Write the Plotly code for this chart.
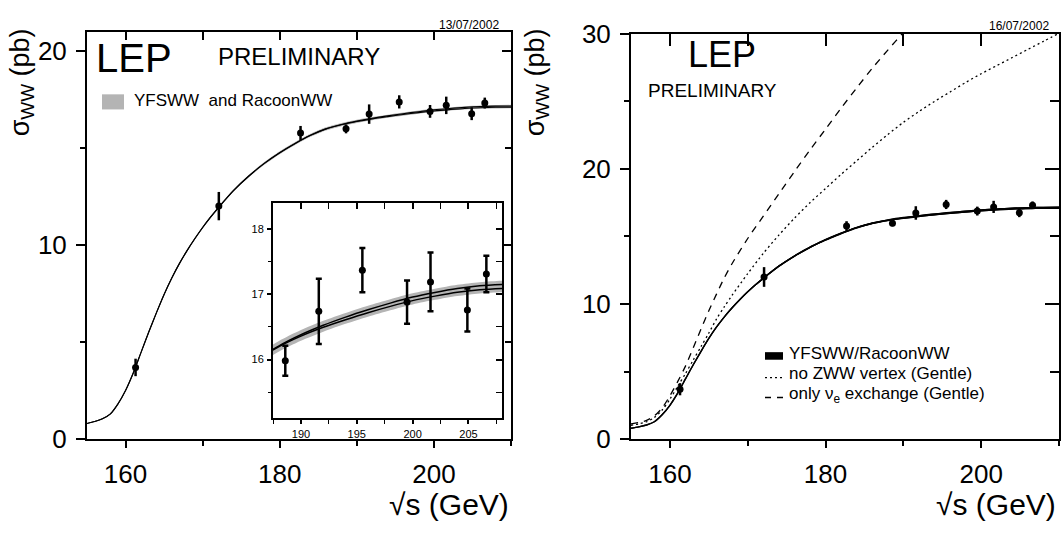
import plotly.graph_objects as go

# ---------------- data ----------------
energies = [161.3, 172.1, 182.7, 188.6, 191.6, 195.5, 199.5, 201.6, 204.9, 206.6]
sigma_ww = [3.69, 12.0, 15.77, 15.98, 16.74, 17.37, 16.88, 17.19, 16.76, 17.31]
sigma_err = [0.45, 0.73, 0.36, 0.23, 0.50, 0.34, 0.33, 0.45, 0.33, 0.28]

th_energy = [155, 156, 157, 158, 159, 160, 161, 162, 163, 164, 165, 166, 167, 168, 169, 170,
             171, 172, 174, 176, 178, 180, 182, 184, 186, 188, 190, 192, 194, 196, 198, 200,
             202, 204, 206, 208, 210]
th_center = [0.80, 0.90, 1.04, 1.28, 1.80, 2.50, 3.40, 4.45, 5.50, 6.50, 7.45, 8.30, 9.05, 9.72, 10.33, 10.90,
             11.42, 11.90, 12.80, 13.55, 14.20, 14.75, 15.23, 15.65, 15.98, 16.20, 16.37, 16.51, 16.63, 16.74, 16.84, 16.93,
             17.00, 17.06, 17.10, 17.12, 17.13]
yfsww = [0.80, 0.90, 1.04, 1.28, 1.80, 2.50, 3.40, 4.45, 5.50, 6.50, 7.45, 8.30, 9.05, 9.72, 10.33, 10.90,
         11.42, 11.90, 12.80, 13.55, 14.20, 14.75, 15.23, 15.65, 15.98, 16.205, 16.38, 16.525, 16.65, 16.762, 16.865, 16.957,
         17.028, 17.088, 17.13, 17.15, 17.16]
racoonww = [0.80, 0.90, 1.04, 1.28, 1.80, 2.50, 3.40, 4.45, 5.50, 6.50, 7.45, 8.30, 9.05, 9.72, 10.33, 10.90,
            11.42, 11.90, 12.80, 13.55, 14.20, 14.75, 15.23, 15.65, 15.98, 16.195, 16.36, 16.495, 16.61, 16.718, 16.815, 16.903,
            16.972, 17.032, 17.07, 17.09, 17.10]
th_unc = [0.004, 0.005, 0.005, 0.007, 0.010, 0.013, 0.017, 0.022, 0.027, 0.032, 0.037, 0.041, 0.045, 0.049, 0.052, 0.055,
          0.057, 0.060, 0.064, 0.068, 0.071, 0.074, 0.076, 0.078, 0.080, 0.081, 0.082, 0.083, 0.083, 0.084, 0.084, 0.085,
          0.085, 0.086, 0.086, 0.087, 0.087]

gentle_energy = [155, 156, 157, 158, 159, 160, 161, 162, 163, 164, 165, 166, 167, 168, 170, 172, 174, 176, 178,
                 180, 182, 184, 186, 188, 190, 192, 194, 196, 198, 200, 202, 204, 206, 208, 210]
no_zww = [1.02, 1.12, 1.28, 1.60, 2.15, 2.95, 3.90, 4.85, 5.85, 6.85, 7.85, 8.90, 9.80, 10.65, 12.25, 13.75, 15.10, 16.35, 17.50,
          18.55, 19.60, 20.60, 21.60, 22.55, 23.45, 24.25, 25.00, 25.70, 26.40, 27.05, 27.65, 28.25, 28.85, 29.45, 30.05]
only_nue = [1.12, 1.22, 1.38, 1.72, 2.30, 3.20, 4.25, 5.40, 6.75, 8.15, 9.50, 10.75, 11.95, 13.00, 14.85, 16.50, 18.15, 19.80, 21.40,
            22.95, 24.50, 26.00, 27.45, 28.80, 30.10, 31.30, 32.50, 33.60, 34.70, 35.70, 36.70, 37.60, 38.50, 39.40, 40.30]

main_xticks = [160, 180, 200]
inset_xticks = [190, 195, 200, 205]

# ---------------- helpers ----------------
W, H = 1063, 540
def px(x): return x / W
def py(y): return 1 - y / H

FONT = "Liberation Sans, Arial, sans-serif"
fig = go.Figure()

def add_theory(xa, ya, band_color, lw):
    lo = [c - u for c, u in zip(th_center, th_unc)]
    hi = [c + u for c, u in zip(th_center, th_unc)]
    fig.add_trace(go.Scatter(x=th_energy, y=lo, mode="lines",
                             line=dict(width=0, shape="spline", smoothing=0.8, color=band_color),
                             xaxis=xa, yaxis=ya, hoverinfo="skip"))
    fig.add_trace(go.Scatter(x=th_energy, y=hi, mode="lines",
                             line=dict(width=0, shape="spline", smoothing=0.8, color=band_color),
                             fill="tonexty", fillcolor=band_color, xaxis=xa, yaxis=ya, hoverinfo="skip"))
    for ser in (yfsww, racoonww):
        fig.add_trace(go.Scatter(x=th_energy, y=ser, mode="lines",
                                 line=dict(width=lw, shape="spline", smoothing=0.8, color="black"),
                                 xaxis=xa, yaxis=ya))

def add_data(xa, ya, size, cap):
    fig.add_trace(go.Scatter(x=energies, y=sigma_ww, mode="markers",
                             marker=dict(size=size, color="black"),
                             error_y=dict(type="data", array=sigma_err, thickness=2.5, width=cap, color="black"),
                             xaxis=xa, yaxis=ya))

# left main
add_theory("x", "y", "#b4b4b4", 1.1)
add_data("x", "y", 7, 0)
# right main
fig.add_trace(go.Scatter(x=gentle_energy, y=no_zww, mode="lines",
                         line=dict(width=1.3, dash="2px,3px", shape="spline", smoothing=0.8, color="black"),
                         xaxis="x2", yaxis="y2"))
fig.add_trace(go.Scatter(x=gentle_energy, y=only_nue, mode="lines",
                         line=dict(width=1.3, dash="7px,6px", shape="spline", smoothing=0.8, color="black"),
                         xaxis="x2", yaxis="y2"))
add_theory("x2", "y2", "black", 1.4)
add_data("x2", "y2", 7, 0)
# inset
add_theory("x3", "y3", "#b4b4b4", 1.5)
add_data("x3", "y3", 7, 3)
# dummy traces for frame overlay axes
for a, b in (("x4", "y4"), ("x5", "y5"), ("x6", "y6")):
    fig.add_trace(go.Scatter(x=[], y=[], xaxis=a, yaxis=b, mode="markers"))

L_dom_x = [px(87), px(511)]
L_dom_y = [py(449), py(18)]
R_dom_x = [px(631), px(1059)]
R_dom_y = [py(449), py(20)]
I_dom_x = [px(273), px(502)]
I_dom_y = [py(427), py(199)]

L_xr, L_yr = [155, 210], [0, 20.97]
R_xr, R_yr = [155, 210], [0, 30]
I_xr, I_yr = [187.5, 208], [15.1, 18.4]

def base_axis(**kw):
    d = dict(showline=True, linewidth=2, linecolor="black", showgrid=False, zeroline=False,
             tickcolor="black", tickwidth=1.5, fixedrange=True)
    d.update(kw)
    return d

big = dict(size=26, family=FONT, color="black")
small = dict(size=11, family=FONT, color="black")
lay = {}
# left
lay["xaxis"] = base_axis(domain=L_dom_x, range=L_xr, anchor="y", ticks="outside", ticklen=7,
                         tickvals=main_xticks, ticklabelstandoff=4,
                         minor=dict(dtick=10, tick0=150, ticks="outside", ticklen=5, tickcolor="black", tickwidth=1.5),
                         tickfont=big)
lay["yaxis"] = base_axis(domain=L_dom_y, range=L_yr, anchor="x", ticks="outside", ticklen=9, dtick=10,
                         ticklabelstandoff=4,
                         minor=dict(dtick=5, ticks="outside", ticklen=5, tickcolor="black", tickwidth=1.5),
                         tickfont=big)
lay["xaxis4"] = base_axis(overlaying="x", anchor="y", side="top", range=L_xr, ticks="inside", ticklen=8,
                          tickvals=main_xticks, showticklabels=False,
                          minor=dict(dtick=10, tick0=150, ticks="inside", ticklen=8, tickcolor="black", tickwidth=1.5))
lay["yaxis4"] = base_axis(overlaying="y", anchor="x", side="right", range=L_yr, ticks="inside", ticklen=9,
                          dtick=10, showticklabels=False,
                          minor=dict(dtick=5, ticks="inside", ticklen=6, tickcolor="black", tickwidth=1.5))
# right
lay["xaxis2"] = base_axis(domain=R_dom_x, range=R_xr, anchor="y2", ticks="outside", ticklen=7,
                          tickvals=main_xticks, ticklabelstandoff=4,
                          minor=dict(dtick=10, tick0=150, ticks="outside", ticklen=5, tickcolor="black", tickwidth=1.5),
                          tickfont=big)
lay["yaxis2"] = base_axis(domain=R_dom_y, range=R_yr, anchor="x2", ticks="outside", ticklen=9, dtick=10,
                          ticklabelstandoff=4,
                          minor=dict(dtick=5, ticks="outside", ticklen=5, tickcolor="black", tickwidth=1.5),
                          tickfont=big)
lay["xaxis5"] = base_axis(overlaying="x2", anchor="y2", side="top", range=R_xr, ticks="inside", ticklen=12,
                          tickvals=main_xticks, showticklabels=False,
                          minor=dict(dtick=10, tick0=150, ticks="inside", ticklen=12, tickcolor="black", tickwidth=1.5))
lay["yaxis5"] = base_axis(overlaying="y2", anchor="x2", side="right", range=R_yr, ticks="inside", ticklen=14,
                          dtick=10, showticklabels=False,
                          minor=dict(dtick=5, ticks="inside", ticklen=9, tickcolor="black", tickwidth=1.5))
# inset
lay["xaxis3"] = base_axis(domain=I_dom_x, range=I_xr, anchor="y3", ticks="outside", ticklen=4,
                          tickvals=inset_xticks, ticklabelstandoff=1,
                          minor=dict(dtick=2.5, tick0=187.5, ticks="outside", ticklen=4, tickcolor="black", tickwidth=1.2),
                          tickfont=small)
lay["yaxis3"] = base_axis(domain=I_dom_y, range=I_yr, anchor="x3", ticks="outside", ticklen=4, dtick=1,
                          ticklabelstandoff=1,
                          minor=dict(dtick=0.5, ticks="outside", ticklen=3, tickcolor="black", tickwidth=1.2),
                          tickfont=small)
lay["xaxis6"] = base_axis(overlaying="x3", anchor="y3", side="top", range=I_xr, ticks="inside", ticklen=6,
                          tickvals=inset_xticks, showticklabels=False,
                          minor=dict(dtick=2.5, tick0=187.5, ticks="inside", ticklen=6, tickcolor="black", tickwidth=1.2))
lay["yaxis6"] = base_axis(overlaying="y3", anchor="x3", side="right", range=I_yr, ticks="inside", ticklen=6,
                          dtick=1, showticklabels=False,
                          minor=dict(dtick=0.5, ticks="inside", ticklen=6, tickcolor="black", tickwidth=1.2))

fig.update_layout(**lay)

def ann(text, x, y, size, xanchor="left", yanchor="middle", angle=0):
    fig.add_annotation(text=text, x=px(x), y=py(y), xref="paper", yref="paper", showarrow=False,
                       xanchor=xanchor, yanchor=yanchor, textangle=angle,
                       font=dict(size=size, family=FONT, color="black"))

# texts
ann("LEP", 94, 46, 40)
ann("PRELIMINARY", 216, 44, 24)
ann("LEP", 686, 42, 36)
ann("PRELIMINARY", 646, 80, 19)
ann("13/07/2002", 501, 11, 12, xanchor="right")
ann("16/07/2002", 1051, 12, 12, xanchor="right")
ann("√s (GeV)", 511, 518, 30, xanchor="right")
ann("√s (GeV)", 1058, 518, 30, xanchor="right")
ann("σ<sub>WW</sub> (pb)", 22, 12, 27, xanchor="center", yanchor="top", angle=-90)
ann("σ<sub>WW</sub> (pb)", 537, 12, 27, xanchor="center", yanchor="top", angle=-90)

# left legend
fig.add_shape(type="rect", xref="paper", yref="paper", x0=px(102), x1=px(124), y0=py(100), y1=py(84),
              fillcolor="#b4b4b4", line=dict(width=0))
ann("YFSWW  and RacoonWW", 132, 91, 17)
# right legend
fig.add_shape(type="rect", xref="paper", yref="paper", x0=px(765), x1=px(783), y0=py(365), y1=py(357),
              fillcolor="black", line=dict(width=0))
fig.add_shape(type="line", xref="paper", yref="paper", x0=px(765), x1=px(784), y0=py(384), y1=py(384),
              line=dict(width=1.3, color="black", dash="2px,3px"))
fig.add_shape(type="line", xref="paper", yref="paper", x0=px(765), x1=px(784), y0=py(405), y1=py(405),
              line=dict(width=1.3, color="black", dash="6px,6px"))
ann("YFSWW/RacoonWW", 787, 358, 17)
ann("no ZWW vertex (Gentle)", 787, 380, 17)
ann("only ν<sub>e</sub> exchange (Gentle)", 787, 402, 17)

fig.update_layout(width=W, height=H, margin=dict(l=0, r=0, t=0, b=0), autosize=False,
                  plot_bgcolor="white", paper_bgcolor="white", showlegend=False,
                  font=dict(family=FONT, color="black"))

fig.write_html("out.html")
